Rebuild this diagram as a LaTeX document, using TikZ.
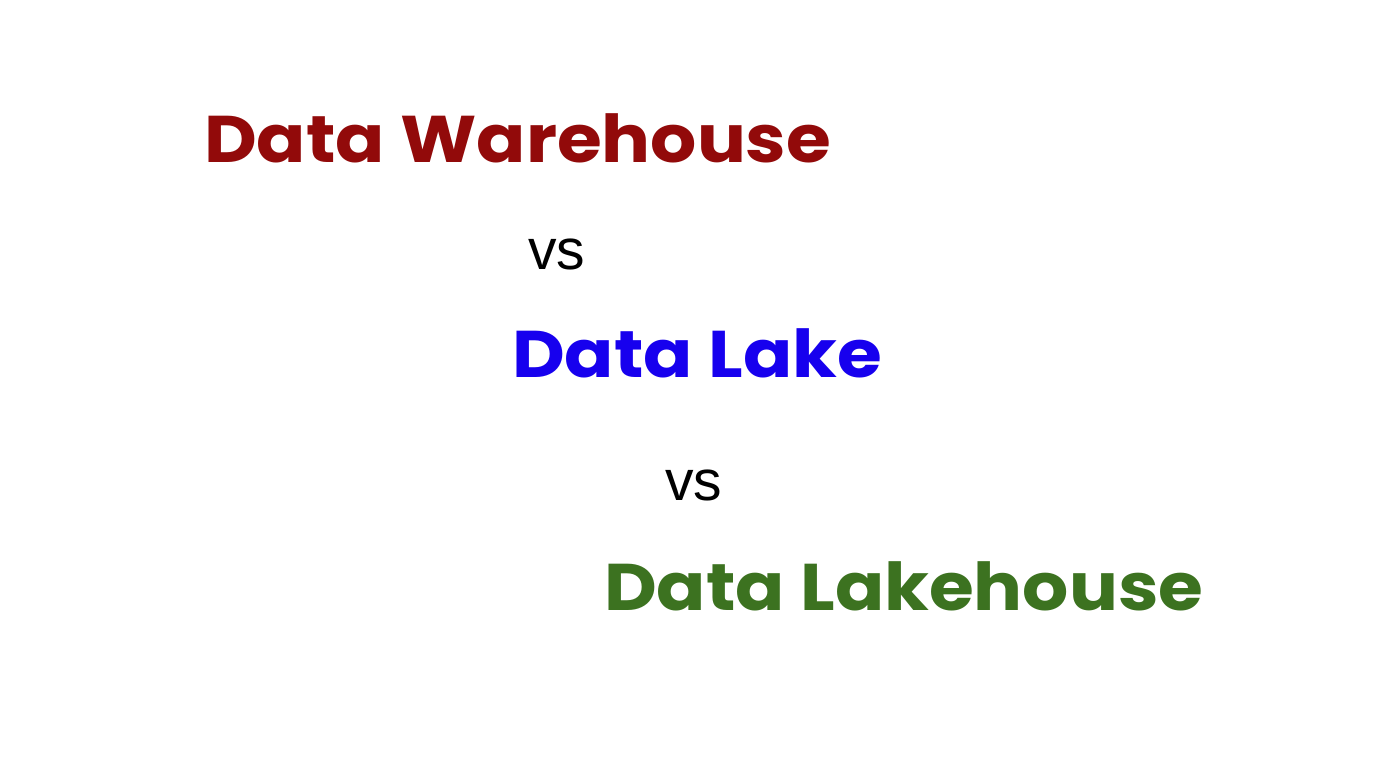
\documentclass[tikz,border=0pt]{standalone}
\usepackage{fontspec}
\newfontfamily\titlefont{Poppins}[UprightFont=* Bold,FakeStretch=1.1]
\newfontfamily\vsfont{Liberation Sans}
\definecolor{warehouseRed}{HTML}{920A0A}
\definecolor{lakeBlue}{HTML}{1700EE}
\definecolor{lakehouseGreen}{HTML}{3C7220}

\begin{document}
\begin{tikzpicture}[x=1pt,y=1pt,
  titleName/.style={anchor=base west,inner sep=0pt,font=\titlefont\fontsize{66}{70}\selectfont},
  vsName/.style={anchor=base west,inner sep=0pt,font=\vsfont\fontsize{57}{60}\selectfont,text=black}]
 \useasboundingbox[fill=white] (0,0) rectangle (1400,764);

 %Names
 \node (warehouse) [titleName,text=warehouseRed] at (204,601) {Data Warehouse};
 \node (vsOne) [vsName] at (528,494) {vs};
 \node (lake) [titleName,text=lakeBlue] at (512,386) {Data Lake};
 \node (vsTwo) [vsName] at (665,264) {vs};
 \node (lakehouse) [titleName,text=lakehouseGreen] at (604,154) {Data Lakehouse};

\end{tikzpicture}
\end{document}
